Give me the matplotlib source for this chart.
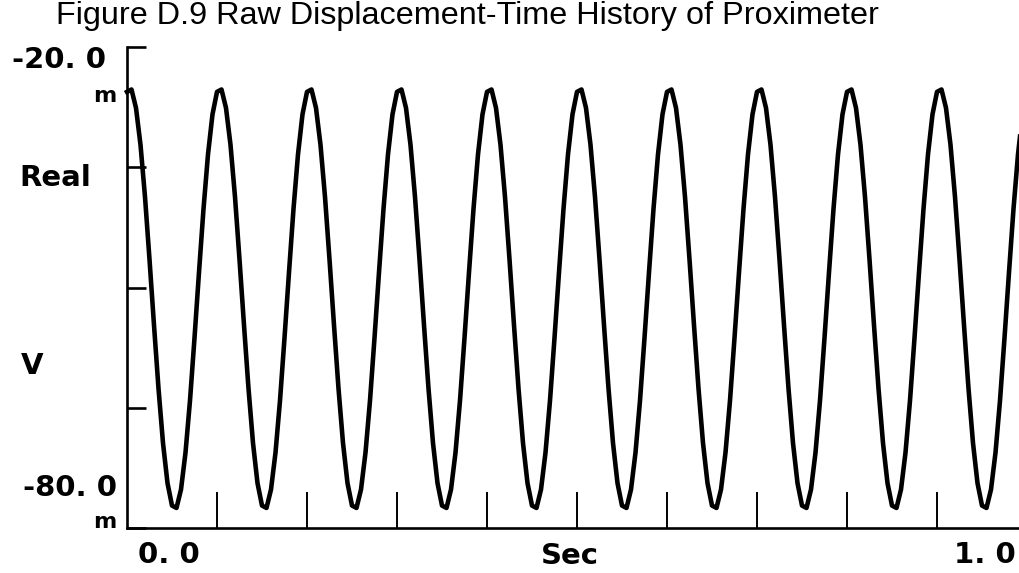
import matplotlib
matplotlib.use("Agg")
import matplotlib.pyplot as plt
import numpy as np

# Proximeter readings (mV), every 5 ms from 0.0 to 1.0 s
t_step = 0.005
volts = [
    -25.6, -25.3, -27.6, -32.2, -38.7, -46.5, -54.7, -62.6, -69.4, -74.4,
    -77.2, -77.5, -75.2, -70.6, -64.1, -56.3, -48.1, -40.2, -33.4, -28.4,
    -25.6, -25.3, -27.6, -32.2, -38.7, -46.5, -54.7, -62.6, -69.4, -74.4,
    -77.2, -77.5, -75.2, -70.6, -64.1, -56.3, -48.1, -40.2, -33.4, -28.4,
    -25.6, -25.3, -27.6, -32.2, -38.7, -46.5, -54.7, -62.6, -69.4, -74.4,
    -77.2, -77.5, -75.2, -70.6, -64.1, -56.3, -48.1, -40.2, -33.4, -28.4,
    -25.6, -25.3, -27.6, -32.2, -38.7, -46.5, -54.7, -62.6, -69.4, -74.4,
    -77.2, -77.5, -75.2, -70.6, -64.1, -56.3, -48.1, -40.2, -33.4, -28.4,
    -25.6, -25.3, -27.6, -32.2, -38.7, -46.5, -54.7, -62.6, -69.4, -74.4,
    -77.2, -77.5, -75.2, -70.6, -64.1, -56.3, -48.1, -40.2, -33.4, -28.4,
    -25.6, -25.3, -27.6, -32.2, -38.7, -46.5, -54.7, -62.6, -69.4, -74.4,
    -77.2, -77.5, -75.2, -70.6, -64.1, -56.3, -48.1, -40.2, -33.4, -28.4,
    -25.6, -25.3, -27.6, -32.2, -38.7, -46.5, -54.7, -62.6, -69.4, -74.4,
    -77.2, -77.5, -75.2, -70.6, -64.1, -56.3, -48.1, -40.2, -33.4, -28.4,
    -25.6, -25.3, -27.6, -32.2, -38.7, -46.5, -54.7, -62.6, -69.4, -74.4,
    -77.2, -77.5, -75.2, -70.6, -64.1, -56.3, -48.1, -40.2, -33.4, -28.4,
    -25.6, -25.3, -27.6, -32.2, -38.7, -46.5, -54.7, -62.6, -69.4, -74.4,
    -77.2, -77.5, -75.2, -70.6, -64.1, -56.3, -48.1, -40.2, -33.4, -28.4,
    -25.6, -25.3, -27.6, -32.2, -38.7, -46.5, -54.7, -62.6, -69.4, -74.4,
    -77.2, -77.5, -75.2, -70.6, -64.1, -56.3, -48.1, -40.2, -33.4, -28.4,
    -25.6,
]
x_ticks = [0.1, 0.2, 0.3, 0.4, 0.5, 0.6, 0.7, 0.8, 0.9]
y_ticks = [-20, -35, -50, -65, -80]

t = np.arange(len(volts)) * t_step

W, H = 1020, 573
fig = plt.figure(figsize=(W / 100, H / 100), dpi=100)
fig.patch.set_facecolor("white")

# axes box in pixel terms
left, right, top, bottom = 127, 1020, 47, 528
ax = fig.add_axes([left / W, 1 - bottom / H, (right - left) / W, (bottom - top) / H])
ax.plot(t, volts, color="black", lw=3.3, solid_joinstyle="round", clip_on=False)

ax.set_xlim(0, (right - left) / 900)
ax.set_ylim(-80, -20)
for s in ["top", "right"]:
    ax.spines[s].set_visible(False)
for s in ["left", "bottom"]:
    ax.spines[s].set_linewidth(1.9)
ax.set_xticks(x_ticks)
ax.set_yticks(y_ticks)
ax.tick_params(axis="x", direction="in", length=26, width=1.4, labelbottom=False)
ax.tick_params(axis="y", direction="in", length=14, width=1.9, labelleft=False)

def px(x, y):
    return x / W, 1 - y / H

lab = dict(fontsize=21, fontweight="bold", family="DejaVu Sans", color="black")
small = dict(fontsize=16, fontweight="bold", family="DejaVu Sans", color="black")
fig.text(*px(56, 1), "Figure D.9 Raw Displacement-Time History of Proximeter",
         fontsize=23.3, family="Liberation Sans", va="top", ha="left")
fig.text(*px(106, 60), "-20. 0", ha="right", va="center", **lab)
fig.text(*px(116, 96), "m", ha="right", va="center", **small)
fig.text(*px(19, 178), "Real", ha="left", va="center", **lab)
fig.text(*px(21, 366), "V", ha="left", va="center", **lab)
fig.text(*px(117, 488), "-80. 0", ha="right", va="center", **lab)
fig.text(*px(116, 522), "m", ha="right", va="center", **small)
fig.text(*px(138, 555), "0. 0", ha="left", va="center", **lab)
fig.text(*px(570, 556), "Sec", ha="center", va="center", **lab)
fig.text(*px(1016, 555), "1. 0", ha="right", va="center", **lab)

fig.savefig("out.png", dpi=100)
